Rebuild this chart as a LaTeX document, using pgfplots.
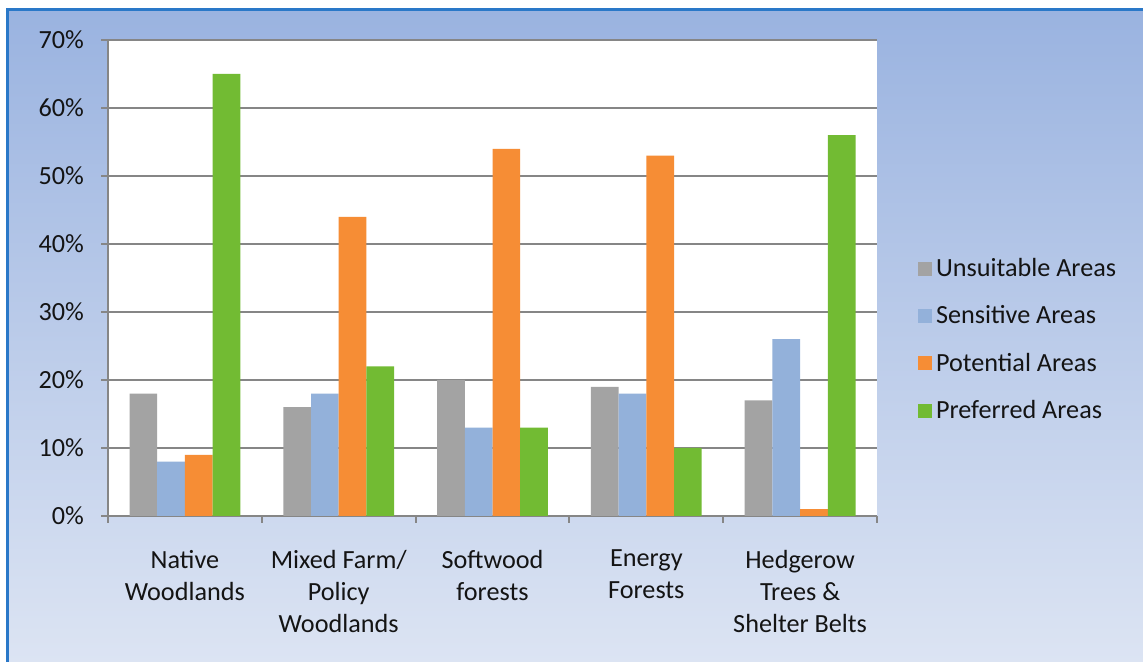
\documentclass[border=0pt]{standalone}
\usepackage{pgfplots}
\pgfplotsset{compat=1.18}
\usepackage{fontspec}
\setmainfont{Carlito}

\definecolor{cgray}{HTML}{A3A3A3}
\definecolor{cblue}{HTML}{93B1DA}
\definecolor{corange}{HTML}{F68D35}
\definecolor{cgreen}{HTML}{72BB33}
\definecolor{gridcol}{HTML}{868686}
\definecolor{bgtop}{HTML}{9AB3E0}
\definecolor{bgbot}{HTML}{DCE4F3}
\definecolor{bordercol}{HTML}{2A78C8}

\begin{document}
\begin{tikzpicture}
\path[use as bounding box] (0pt,0pt) rectangle (571.5pt,331pt);
\fill[white] (0pt,0pt) rectangle (571.5pt,331pt);
\shade[top color=bgtop, bottom color=bgbot] (3.5pt,0pt) rectangle (571.5pt,326pt);
\draw[line width=1.5pt, bordercol] (3.5pt,0pt) -- (3.5pt,326pt) -- (571.5pt,326pt);
\begin{axis}[
    at={(54pt,73pt)}, anchor=south west,
    scale only axis, width=384.5pt, height=238pt,
    axis background/.style={fill=white},
    ybar=0pt, bar width=13.85pt,
    xmin=-0.5, xmax=4.5, ymin=0, ymax=70,
    axis x line*=bottom, axis y line*=left,
    axis line style={gridcol, line width=1pt},
    ymajorgrids, grid style={gridcol, line width=1pt},
    tick align=outside,
    major tick length=3.5pt, minor tick length=3.5pt,
    tick style={gridcol, line width=1pt},
    major x tick style={draw=none},
    ytick={0,10,...,70},
    yticklabels={0\%,10\%,20\%,30\%,40\%,50\%,60\%,70\%},
    xtick={0,...,4},
    minor xtick={-0.5,0.5,...,4.5},
    xticklabels={Native\\Woodlands, Mixed Farm/\\Policy\\Woodlands, Softwood\\forests, Energy\\Forests, Hedgerow\\Trees \&\\Shelter Belts},
    ticklabel style={font=\fontsize{13.1}{16}\selectfont, text=black!92},
    yticklabel style={xshift=-5pt},
    xticklabel style={align=center, yshift=-10pt},
    legend style={at={(1.045,0.37)}, anchor=west, draw=none, fill=none,
        font=\fontsize{13.1}{16}\selectfont, row sep=9pt, text=black!92},
    legend cell align=left,
    legend image code/.code={\fill[#1] (0pt,-3.5pt) rectangle (7pt,3.5pt);},
]
\addplot[fill=cgray, draw=none] coordinates {(0,18) (1,16) (2,20) (3,19) (4,17)};
\addplot[fill=cblue, draw=none] coordinates {(0,8) (1,18) (2,13) (3,18) (4,26)};
\addplot[fill=corange, draw=none] coordinates {(0,9) (1,44) (2,54) (3,53) (4,1)};
\addplot[fill=cgreen, draw=none] coordinates {(0,65) (1,22) (2,13) (3,10) (4,56)};
\legend{Unsuitable Areas, Sensitive Areas, Potential Areas, Preferred Areas}
\end{axis}
\end{tikzpicture}
\end{document}
